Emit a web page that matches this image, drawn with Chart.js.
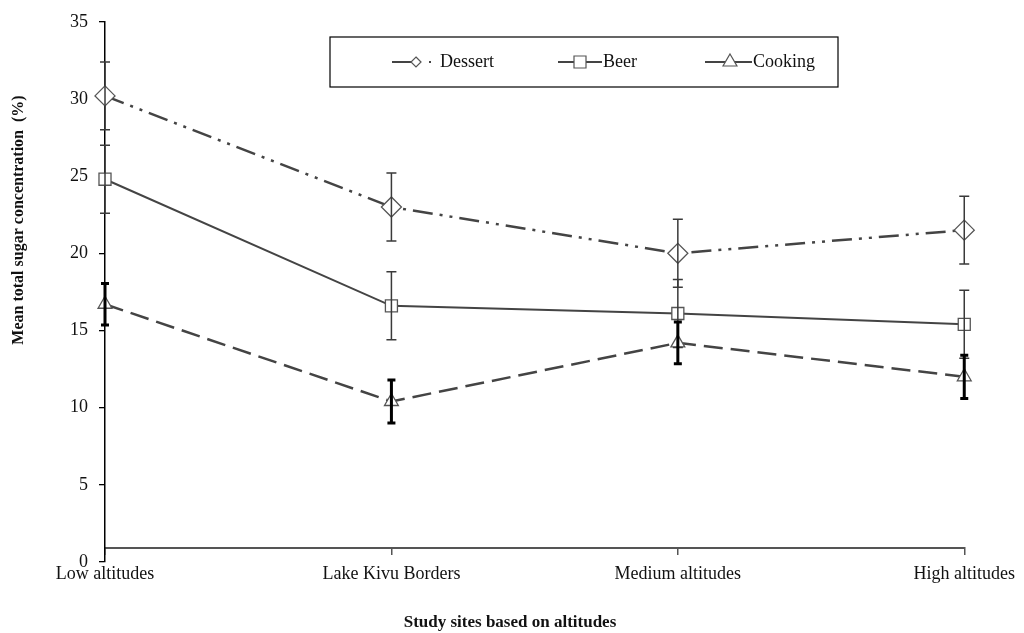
<!DOCTYPE html>
<html>
<head>
<meta charset="utf-8">
<title>Mean total sugar concentration by study site</title>
<script src="https://cdn.jsdelivr.net/npm/chart.js@4.4.1/dist/chart.umd.min.js"></script>
<style>
  html, body { margin: 0; padding: 0; background: #fff; }
  #wrap { width: 1024px; height: 633px; position: relative; }
</style>
</head>
<body>
<div id="wrap"><canvas id="sugarChart"></canvas></div>
<script>
// data
const sites = ['Low altitudes', 'Lake Kivu Borders', 'Medium altitudes', 'High altitudes'];
const dessert = [30.2, 23.0, 20.0, 21.5];
const dessertErr = [2.2, 2.2, 2.2, 2.2];
const beer = [24.8, 16.6, 16.1, 15.4];
const beerErr = [2.2, 2.2, 2.2, 2.2];
const cooking = [16.7, 10.4, 14.2, 12.0];
const cookingErr = [1.35, 1.4, 1.35, 1.4];
const yTicks = [0, 5, 10, 15, 20, 25, 30, 35];
const xAxisCrossing = 0.9;

const serif = 'Liberation Serif, Times New Roman, serif';
const ink = '#444';

// error bars, drawn through the library's own y scale
const errorBars = {
  id: 'errorBars',
  afterDatasetsDraw(chart) {
    const ctx = chart.ctx;
    const yScale = chart.scales.y;
    chart.data.datasets.forEach((ds, i) => {
      const meta = chart.getDatasetMeta(i);
      ctx.save();
      ctx.strokeStyle = ds.errColor;
      ctx.lineWidth = ds.errWidth;
      meta.data.forEach((pt, j) => {
        const top = yScale.getPixelForValue(ds.data[j] + ds.errors[j]);
        const bot = yScale.getPixelForValue(ds.data[j] - ds.errors[j]);
        ctx.beginPath();
        ctx.moveTo(pt.x, top);
        ctx.lineTo(pt.x, bot);
        ctx.moveTo(pt.x - ds.capSize, top);
        ctx.lineTo(pt.x + ds.capSize, top);
        ctx.moveTo(pt.x - ds.capSize, bot);
        ctx.lineTo(pt.x + ds.capSize, bot);
        ctx.stroke();
      });
      ctx.restore();
    });
  }
};

function marker(ctx, style, x, y, r) {
  ctx.beginPath();
  if (style === 'rectRot') {
    ctx.moveTo(x, y - r); ctx.lineTo(x + r, y); ctx.lineTo(x, y + r); ctx.lineTo(x - r, y);
  } else if (style === 'rect') {
    ctx.rect(x - r, y - r, 2 * r, 2 * r);
  } else {
    ctx.moveTo(x, y - r); ctx.lineTo(x + r * 0.87, y + r * 0.5); ctx.lineTo(x - r * 0.87, y + r * 0.5);
  }
  ctx.closePath();
  ctx.fill();
  ctx.stroke();
}

// boxed legend and axis titles
const decorations = {
  id: 'decorations',
  afterDraw(chart) {
    const ctx = chart.ctx;
    ctx.save();
    ctx.strokeStyle = '#000';
    ctx.lineWidth = 1.2;
    ctx.strokeRect(330, 37, 508, 50);

    const items = [
      { x0: 392, x1: 432, mx: 416, r: 5, text: 'Dessert', tx: 440 },
      { x0: 558, x1: 602, mx: 580, r: 6, text: 'Beer', tx: 603 },
      { x0: 705, x1: 752, mx: 730, r: 8, text: 'Cooking', tx: 753 }
    ];
    items.forEach((it, i) => {
      const ds = chart.data.datasets[i];
      ctx.strokeStyle = ds.borderColor;
      ctx.lineWidth = 2;
      ctx.beginPath();
      ctx.moveTo(it.x0, 62);
      ctx.lineTo(i === 0 ? it.mx : it.x1, 62);
      ctx.stroke();
      if (i === 0) {
        ctx.fillStyle = ds.borderColor;
        ctx.fillRect(429, 61, 2, 2);
      }
      ctx.fillStyle = '#fff';
      ctx.strokeStyle = '#555';
      ctx.lineWidth = 1.2;
      marker(ctx, ds.pointStyle, it.mx, 62, it.r);
      ctx.fillStyle = '#111';
      ctx.font = '18px ' + serif;
      ctx.textBaseline = 'middle';
      ctx.textAlign = 'left';
      ctx.fillText(it.text, it.tx, 62);
    });

    ctx.fillStyle = '#111';
    ctx.font = 'bold 17px ' + serif;
    ctx.textAlign = 'center';
    ctx.textBaseline = 'middle';
    ctx.fillText('Study sites based on altitudes', 510, 623);

    ctx.translate(19, 220);
    ctx.rotate(-Math.PI / 2);
    ctx.font = 'bold 16px ' + serif;
    ctx.fillText('Mean total sugar concentration  (%)', 0, 0);
    ctx.restore();
  }
};

const ctx = document.getElementById('sugarChart');
const myChart = new Chart(ctx, {
  type: 'line',
  data: {
    labels: sites,
    datasets: [{
      label: 'Dessert',
      data: dessert,
      errors: dessertErr,
      errColor: '#3a3a3a',
      errWidth: 1.5,
      capSize: 5,
      borderColor: ink,
      borderWidth: 2.5,
      borderDash: [20, 7, 3, 7, 3, 7],
      pointStyle: 'rectRot',
      pointRadius: 10,
      pointBackgroundColor: '#fff',
      pointBorderColor: '#555',
      pointBorderWidth: 1.3,
      clip: false
    }, {
      label: 'Beer',
      data: beer,
      errors: beerErr,
      errColor: '#3a3a3a',
      errWidth: 1.5,
      capSize: 5,
      borderColor: ink,
      borderWidth: 2,
      pointStyle: 'rect',
      pointRadius: 8.5,
      pointBackgroundColor: '#fff',
      pointBorderColor: '#555',
      pointBorderWidth: 1.3,
      clip: false
    }, {
      label: 'Cooking',
      data: cooking,
      errors: cookingErr,
      errColor: '#000',
      errWidth: 3,
      capSize: 4,
      borderColor: ink,
      borderWidth: 2.5,
      borderDash: [19, 8],
      pointStyle: 'triangle',
      pointRadius: 8,
      pointBackgroundColor: '#fff',
      pointBorderColor: '#555',
      pointBorderWidth: 1.3,
      clip: false
    }]
  },
  options: {
    responsive: true,
    maintainAspectRatio: false,
    animation: false,
    layout: { padding: { top: 19, right: 56, bottom: 71, left: 0 } },
    plugins: {
      legend: { display: false },
      tooltip: { enabled: false }
    },
    scales: {
      x: {
        type: 'category',
        offset: false,
        position: { y: xAxisCrossing },
        grid: { drawOnChartArea: false, tickLength: 6, color: '#555', lineWidth: 1.5 },
        border: { display: true, color: '#555', width: 2 },
        ticks: { color: '#111', padding: 9, maxRotation: 0, font: { family: serif, size: 18 } }
      },
      y: {
        min: 0,
        max: 35,
        afterBuildTicks(scale) { scale.ticks = yTicks.map(v => ({ value: v })); },
        afterFit(scale) { scale.width = 105; },
        grid: { drawOnChartArea: false, tickLength: 6, color: '#000', lineWidth: 1.3 },
        border: { display: true, color: '#000', width: 1.5 },
        ticks: { color: '#111', padding: 11, font: { family: serif, size: 18 } }
      }
    }
  },
  plugins: [errorBars, decorations]
});
</script>
</body>
</html>
